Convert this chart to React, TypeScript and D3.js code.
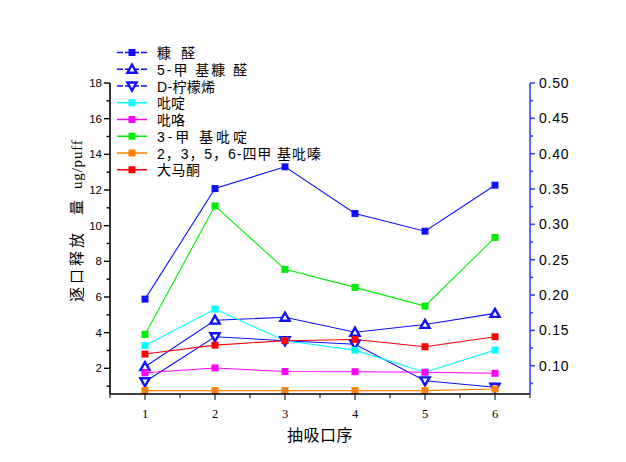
import React from "react";
import * as d3 from "d3";

const puffs = [1, 2, 3, 4, 5, 6];
const seriesNames = ["糠 醛", "5-甲 基糠 醛", "D-柠檬烯", "吡啶", "吡咯", "3-甲 基吡啶", "2，3，5，6-四甲 基吡嗪", "大马酮"];
const furfural = [5.88, 12.08, 13.3, 10.68, 9.69, 12.27];
const methylFurfural = [2.09, 4.7, 4.86, 4.02, 4.46, 5.08];
const limonene = [1.25, 3.77, 3.55, 3.35, 1.3, 0.94];
const pyridine = [3.27, 5.32, 3.55, 3.02, 1.78, 3.02];
const pyrrole = [1.75, 2.02, 1.82, 1.81, 1.78, 1.72];
const methylPyridine = [3.9, 11.11, 7.55, 6.54, 5.49, 9.34];
const tetramethylPyrazine = [0.75, 0.75, 0.75, 0.75, 0.75, 0.84];
const damascone = [2.8, 3.3, 3.55, 3.62, 3.21, 3.77];
const colors = ["#1010ff", "#1010ff", "#1010ff", "#00ffff", "#ff00ff", "#00ee00", "#ff8000", "#ff0000"];
const markers = ["square", "up", "down", "square", "square", "square", "square", "square"];
const legendWidths = [38, 90, 58, 28, 28, 90, 164, 43];
const leftTicks = [2, 4, 6, 8, 10, 12, 14, 16, 18];
const rightTicks = [0.1, 0.15, 0.2, 0.25, 0.3, 0.35, 0.4, 0.45, 0.5];

const allSeries = [furfural, methylFurfural, limonene, pyridine, pyrrole, methylPyridine, tetramethylPyrazine, damascone];

const cjk = '"Liberation Sans", "Noto Sans CJK SC", sans-serif';
const cjkSerif = '"Liberation Serif", "Noto Sans CJK SC", serif';

function Marker({ type, x, y, color }: { type: string; x: number; y: number; color: string }) {
  if (type === "square") {
    return <rect x={x - 3.5} y={y - 3.5} width={7} height={7} fill={color} />;
  }
  const s = 4.6;
  const pts =
    type === "up"
      ? [[x, y - s], [x - s, y + s * 0.75], [x + s, y + s * 0.75]]
      : [[x, y + s], [x - s, y - s * 0.75], [x + s, y - s * 0.75]];
  return <polygon points={pts.map((p) => p.join(",")).join(" ")} fill="#ffffff" stroke={color} strokeWidth={2.4} />;
}

export default function App() {
  const left = 110, right = 530, top = 83, bottom = 394;
  const x = d3.scaleLinear().domain([0.5, 6.5]).range([left, right]);
  const y = d3.scaleLinear().domain([0.56, 18]).range([bottom, top]);
  const yR = d3.scaleLinear().domain([0.06, 0.5]).range([bottom, top]);
  const line = d3.line<number>().x((_, i) => x(puffs[i])).y((d) => y(d));

  const xMinor = d3.range(0.5, 6.51, 0.5);
  const leftMinor = d3.range(1, 18, 2);
  const rightMinor = d3.range(0.075, 0.5, 0.05);

  return (
    <svg width={626} height={462} style={{ position: "absolute", left: 0, top: 0, background: "#fff" }}>
      {/* series */}
      {allSeries.map((s, k) => (
        <path key={"l" + k} d={line(s) || ""} fill="none" stroke={colors[k]} strokeWidth={1.1} />
      ))}
      {allSeries.map((s, k) =>
        s.map((v, i) => <Marker key={"m" + k + "-" + i} type={markers[k]} x={x(puffs[i])} y={y(v)} color={colors[k]} />)
      )}

      {/* bottom axis */}
      <line x1={left} x2={right} y1={bottom} y2={bottom} stroke="#000" strokeWidth={1.6} />
      {xMinor.map((t) => (
        <line key={"xt" + t} x1={x(t)} x2={x(t)} y1={bottom} y2={bottom + (Number.isInteger(t) ? 6 : 4)} stroke="#000" strokeWidth={1} />
      ))}
      {puffs.map((t) => (
        <text key={"xl" + t} x={x(t)} y={418} textAnchor="middle" fontFamily='"Liberation Serif", serif' fontSize={12.5} fill="#000">
          {t}
        </text>
      ))}
      <text x={320} y={441} textAnchor="middle" fontFamily={cjkSerif} fontSize={16} letterSpacing={0.5} fill="#000">
        抽吸口序
      </text>

      {/* left axis */}
      <line x1={left} x2={left} y1={top} y2={bottom} stroke="#000" strokeWidth={1.6} />
      {leftTicks.map((t) => (
        <g key={"lt" + t}>
          <line x1={left - 6} x2={left} y1={y(t)} y2={y(t)} stroke="#000" strokeWidth={1.4} />
          <text x={102} y={y(t) + 4} textAnchor="end" fontFamily='"Liberation Sans", Arial, sans-serif' fontSize={11.5} fill="#000">
            {t}
          </text>
        </g>
      ))}
      {leftMinor.map((t) => (
        <line key={"lm" + t} x1={left - 3.5} x2={left} y1={y(t)} y2={y(t)} stroke="#000" strokeWidth={1.4} />
      ))}
      <text transform={`translate(81.5, 302) rotate(-90)`} fontFamily={cjkSerif} fontSize={15} fill="#000">
        <tspan letterSpacing={3}>逐口释放</tspan>
        <tspan dx={15}>量</tspan>
        <tspan dx={11} letterSpacing={0.8}>ug/puff</tspan>
      </text>

      {/* right axis */}
      <line x1={right} x2={right} y1={top} y2={bottom} stroke="#4040ff" strokeWidth={1.6} />
      {rightTicks.map((t) => (
        <g key={"rt" + t}>
          <line x1={right} x2={right + 5} y1={yR(t)} y2={yR(t)} stroke="#4040ff" strokeWidth={1.6} />
          <text x={539} y={yR(t) + 5} fontFamily='"Liberation Sans", Arial, sans-serif' fontSize={14} letterSpacing={0.8} fill="#000">
            {d3.format(".2f")(t)}
          </text>
        </g>
      ))}
      {rightMinor.map((t) => (
        <line key={"rm" + t} x1={right} x2={right + 3} y1={yR(t)} y2={yR(t)} stroke="#4040ff" strokeWidth={1.6} />
      ))}

      {/* legend */}
      {seriesNames.map((n, k) => {
        const ly = 52.5 + k * 16.75;
        return (
          <g key={"lg" + k}>
            <line x1={117} x2={147} y1={ly} y2={ly} stroke={colors[k]} strokeWidth={1.5} strokeDasharray={k < 3 ? "6,2" : undefined} />
            <Marker type={markers[k]} x={132} y={ly} color={colors[k]} />
            <text
              x={157}
              y={ly + 5.5}
              fontFamily={cjk}
              fontSize={14}
              fill="#000"
              textLength={legendWidths[k]}
              lengthAdjust="spacing"
              style={{ whiteSpace: "pre" }}
            >
              {n}
            </text>
          </g>
        );
      })}
    </svg>
  );
}
